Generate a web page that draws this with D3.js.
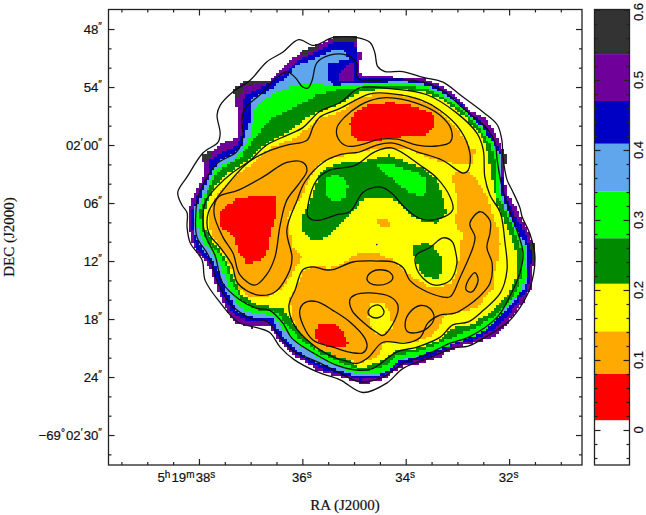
<!DOCTYPE html>
<html>
<head>
<meta charset="utf-8">
<script src="https://cdn.jsdelivr.net/npm/d3@7/dist/d3.min.js"></script>
<style>
  html, body { margin: 0; padding: 0; background: #fff; }
  svg { display: block; }
  text { font-family: "Liberation Sans", Arial, sans-serif; fill: #111; stroke: #111; stroke-width: 0.2; }
</style>
</head>
<body>
<div id="chart"></div>
<script>
"use strict";

// All map data: [RA seconds past 5h19m, Dec arcsec past -69d01m]
const purpleEdge = [[35.41,48.9],[34.94,48.9],[34.93,50.4],[34.83,50.5],[34.83,51.1],[34.91,51.4],[34.91,52.6],[34.73,52.8],[34.11,53.0],[33.66,53.1],[33.34,53.8],[33.09,54.6],[32.70,56.6],[32.43,57.4],[32.23,59.2],[32.08,60.8],[32.12,62.9],[32.04,65.0],[31.84,66.7],[31.65,68.8],[31.50,70.6],[31.52,72.2],[31.56,74.7],[31.73,76.3],[31.98,78.1],[32.31,79.9],[32.70,80.5],[33.01,80.9],[33.34,81.9],[33.72,82.6],[34.11,83.0],[34.50,84.5],[34.89,84.6],[35.20,84.1],[35.70,83.3],[36.24,81.5],[36.49,79.9],[36.63,78.7],[37.01,78.9],[37.34,78.2],[37.59,75.7],[37.79,72.6],[38.04,71.2],[38.17,69.5],[38.21,66.7],[38.02,64.3],[37.88,62.9],[37.94,61.2],[37.75,60.7],[37.54,59.8],[37.25,59.2],[37.27,56.1],[37.34,54.3],[37.15,53.5],[36.63,53.4],[36.30,51.5],[36.01,50.4],[35.70,49.7]];
const blueEdge = [[35.41,49.4],[34.98,49.4],[34.95,51.5],[34.93,52.8],[34.89,53.0],[34.11,53.2],[33.66,53.5],[33.34,54.1],[33.09,55.0],[32.70,56.9],[32.47,57.9],[32.31,59.5],[32.14,60.8],[32.14,62.9],[32.08,65.2],[31.98,66.4],[31.72,68.8],[31.56,70.9],[31.59,73.4],[31.65,75.0],[31.79,76.0],[32.04,77.8],[32.37,79.4],[32.70,80.2],[33.09,80.7],[33.34,81.5],[33.72,82.3],[34.11,82.6],[34.50,84.1],[34.89,84.3],[35.20,83.8],[35.70,83.0],[36.16,81.5],[36.43,80.0],[36.63,78.3],[37.01,78.3],[37.30,77.6],[37.54,75.7],[37.75,72.4],[38.02,70.9],[38.12,69.3],[38.14,66.7],[38.08,66.0],[37.94,64.4],[37.79,62.9],[37.79,61.6],[37.54,60.7],[37.25,60.0],[37.15,58.8],[37.17,56.1],[37.11,54.8],[36.76,54.0],[36.34,52.6],[36.01,51.0],[35.66,50.2]];
const skyEdge = [[36.10,51.7],[35.72,51.0],[35.33,50.0],[35.14,50.4],[35.12,51.2],[35.50,51.5],[35.52,53.0],[35.41,53.8],[34.60,53.6],[34.11,53.4],[33.66,53.7],[33.34,54.4],[33.09,55.3],[32.70,57.2],[32.50,58.2],[32.35,59.7],[32.17,61.0],[32.17,63.1],[32.12,65.4],[32.04,66.7],[31.79,69.3],[31.63,70.9],[31.63,73.4],[31.71,75.0],[31.84,75.7],[32.12,77.4],[32.43,78.9],[32.76,79.9],[33.09,80.4],[33.40,81.2],[33.78,81.9],[34.15,82.4],[34.50,83.8],[34.89,84.0],[35.20,83.5],[35.70,82.6],[36.14,81.2],[36.39,79.7],[36.59,77.9],[36.97,77.8],[37.25,77.3],[37.46,75.3],[37.69,72.2],[37.94,70.7],[38.08,69.1],[38.10,66.7],[38.02,65.9],[37.88,64.3],[37.73,62.6],[37.59,61.6],[37.25,60.7],[37.15,59.8],[37.01,57.4],[37.01,55.3],[36.69,54.5],[36.34,53.1]];
const greenEdge = [[36.95,56.4],[36.69,55.1],[36.38,54.3],[36.10,53.8],[35.91,53.6],[35.52,53.8],[35.14,54.0],[34.69,53.7],[34.11,53.7],[33.66,53.8],[33.34,54.5],[33.01,55.7],[32.70,57.4],[32.50,58.4],[32.31,59.8],[32.21,61.2],[32.21,63.3],[32.17,65.2],[32.08,66.5],[31.84,69.1],[31.69,70.9],[31.67,73.4],[31.75,75.0],[31.98,76.3],[32.23,78.1],[32.50,79.3],[32.89,80.2],[33.28,81.0],[33.66,81.7],[34.11,82.2],[34.34,83.3],[34.56,83.6],[34.89,83.7],[35.20,83.1],[35.70,82.0],[36.07,80.7],[36.34,79.3],[36.57,77.6],[36.95,77.4],[37.21,76.8],[37.40,75.0],[37.63,71.9],[37.84,70.6],[38.02,69.0],[38.04,67.0],[37.94,65.7],[37.79,63.9],[37.69,62.6],[37.25,61.2],[37.01,59.2]];
const forestEdge = [[36.95,59.5],[36.63,57.4],[36.18,56.2],[35.72,54.8],[35.20,54.1],[34.69,54.0],[34.11,53.9],[33.66,54.1],[33.34,54.8],[32.95,56.2],[32.62,57.9],[32.37,60.0],[32.27,61.6],[32.27,63.3],[32.23,65.4],[32.12,66.2],[31.88,69.1],[31.75,70.9],[31.73,73.2],[31.83,74.7],[31.92,75.7],[32.31,77.8],[32.62,78.8],[33.01,79.7],[33.34,80.5],[33.78,81.4],[34.15,81.7],[34.36,82.8],[34.63,83.1],[34.89,83.4],[35.20,82.6],[35.66,81.5],[36.07,80.0],[36.26,78.9],[36.49,77.3],[36.95,76.9],[37.17,76.0],[37.34,74.5],[37.55,71.6],[37.82,70.1],[37.94,68.8],[38.00,67.0],[37.88,65.5],[37.73,63.6],[37.59,62.6],[37.21,61.3]];
const yellowEdge = [[37.54,63.3],[37.05,61.6],[36.69,59.8],[36.30,58.8],[35.85,56.9],[35.33,55.9],[34.89,54.5],[34.25,54.1],[33.66,54.5],[33.28,55.3],[32.89,56.9],[32.56,58.8],[32.41,60.8],[32.33,63.6],[32.23,66.2],[32.04,68.5],[31.88,70.7],[31.84,72.6],[31.88,74.0],[32.04,75.7],[32.37,77.4],[32.76,78.6],[33.09,78.9],[33.34,80.2],[33.72,81.0],[34.17,81.2],[34.44,82.2],[34.69,82.8],[34.89,83.1],[35.20,81.9],[35.58,80.9],[35.99,79.7],[36.18,78.4],[36.38,76.9],[36.82,76.6],[37.15,75.7],[37.30,74.2],[37.50,71.6],[37.75,69.8],[37.88,68.6],[37.92,67.2],[37.82,65.7],[37.65,63.9]];
const orangeUpper = [[37.59,64.7],[37.34,63.3],[36.95,61.9],[36.63,60.3],[36.10,59.2],[35.72,57.4],[35.27,56.6],[34.89,55.0],[34.32,54.6],[33.80,55.1],[33.41,56.2],[33.03,58.1],[32.76,60.2],[32.66,60.5],[32.72,61.9],[33.01,61.9],[33.28,61.8],[33.59,61.2],[33.92,60.5],[34.25,60.5],[34.50,60.3],[34.89,60.7],[35.33,61.2],[35.66,61.8],[35.85,63.3],[36.01,65.4],[36.14,66.2],[36.28,67.4],[36.18,70.6],[36.01,71.6],[36.18,73.1],[36.38,74.8],[36.69,75.7],[37.01,75.7],[37.25,74.8],[37.36,72.9],[37.59,70.6],[37.75,69.3],[37.82,67.4],[37.73,66.0]];
const orangeLower = [[33.05,62.9],[32.76,62.8],[32.60,63.9],[32.41,65.4],[32.33,67.0],[32.21,68.8],[32.17,70.3],[32.23,72.1],[32.27,72.9],[32.33,75.0],[32.62,76.8],[33.01,77.3],[33.24,77.6],[33.40,79.3],[33.69,80.2],[34.11,80.5],[34.40,80.4],[34.54,81.9],[34.89,82.6],[35.41,81.7],[35.79,80.9],[36.07,79.4],[36.18,78.1],[36.24,76.0],[36.07,74.0],[35.95,72.7],[35.72,72.6],[35.47,72.7],[35.20,72.2],[34.89,71.1],[34.56,71.2],[34.25,71.9],[34.05,72.9],[33.86,73.7],[33.53,74.7],[33.14,74.5],[33.01,73.2],[32.95,70.9],[32.91,69.1],[33.05,68.1],[32.99,65.7],[33.10,63.4]];
const orangeDot = [[34.56,67.8],[34.37,67.6],[34.28,68.1],[34.32,68.6],[34.50,68.5]];
const yellowDot = [[34.69,76.3],[34.44,76.3],[34.30,77.4],[34.26,78.8],[34.44,79.7],[34.63,79.3],[34.73,77.8]];
const redUpper = [[34.69,55.7],[34.50,55.7],[34.25,55.6],[33.92,55.9],[33.59,56.4],[33.43,57.1],[33.45,58.2],[33.63,59.0],[34.17,59.2],[34.50,59.5],[34.89,59.7],[35.05,59.0],[35.08,57.7],[34.95,56.4]];
const redLeft = [[37.55,66.7],[37.25,65.4],[36.49,65.3],[36.49,67.0],[36.59,68.6],[36.69,71.2],[36.82,71.9],[37.05,72.3],[37.23,71.2],[37.32,69.5],[37.61,68.3],[37.61,67.4]];
const redLower = [[35.76,79.4],[35.70,78.6],[35.41,78.4],[35.23,79.3],[35.12,80.4],[35.14,81.0],[35.47,80.9],[35.70,80.4]];
const forestCentre = [[35.52,62.3],[35.08,61.6],[34.89,61.8],[34.32,61.0],[34.07,61.6],[33.66,62.4],[33.40,63.6],[33.28,65.4],[33.20,67.0],[33.40,68.1],[33.72,67.8],[33.92,67.2],[34.05,66.4],[34.17,65.7],[34.50,65.4],[34.85,65.7],[35.14,67.6],[35.33,68.5],[35.60,69.8],[35.85,69.8],[35.99,68.8],[36.01,67.4],[35.79,65.0],[35.70,63.3]];
const forestRight = [[33.88,70.6],[33.66,70.1],[33.49,70.3],[33.28,71.9],[33.28,72.9],[33.38,73.8],[33.57,73.7],[33.72,73.1],[33.82,71.6]];
const greenLeft = [[35.56,63.6],[35.41,63.1],[35.20,63.3],[35.12,64.1],[35.14,65.4],[35.33,65.9],[35.52,65.4]];
const greenRight = [[34.54,62.1],[34.30,61.9],[34.05,62.4],[33.76,62.9],[33.59,63.6],[33.59,64.9],[33.66,65.2],[33.92,65.0],[34.17,63.9],[34.44,62.8]];
const purplePatch = [[35.27,52.4],[35.04,51.4],[34.98,51.4],[34.98,53.3],[35.31,53.4]];
const grayPatches = [
  [[35.41,48.8],[34.94,48.8],[34.94,49.2],[35.41,49.2]],
  [[36.01,50.3],[35.72,49.6],[35.72,50.1],[36.01,50.8]],
  [[37.15,53.4],[36.63,53.3],[36.63,53.7],[37.15,53.8]],
  [[37.36,54.2],[37.17,53.8],[37.17,54.6],[37.30,55.2]],
  [[37.94,61.0],[37.75,60.6],[37.75,61.2],[37.90,61.9]],
  [[32.10,60.8],[32.03,60.8],[32.08,62.2],[32.14,62.2]],
  [[31.60,70.0],[31.48,70.0],[31.48,72.0],[31.55,72.0]]
];

const contourOuter = [[36.07,49.1],[35.78,49.7],[35.41,48.9],[34.94,48.9],[34.69,49.4],[34.60,50.4],[34.54,51.9],[34.40,52.4],[34.06,52.4],[33.66,53.0],[33.28,53.5],[32.95,54.8],[32.50,56.6],[32.23,57.9],[32.14,59.5],[32.12,61.2],[32.04,63.6],[31.94,64.7],[31.79,66.5],[31.75,67.4],[31.59,69.3],[31.50,71.6],[31.59,74.7],[31.73,76.3],[31.98,78.1],[32.17,78.9],[32.50,80.0],[32.79,80.8],[33.09,81.0],[33.53,82.0],[34.05,83.1],[34.36,84.6],[34.83,85.6],[35.27,84.3],[35.70,83.5],[36.16,82.2],[36.43,80.9],[36.63,79.4],[36.88,78.9],[37.25,78.3],[37.59,76.3],[37.88,74.0],[37.94,71.9],[38.17,70.1],[38.23,68.5],[38.23,67.0],[38.33,66.2],[38.41,64.9],[38.23,63.3],[37.92,60.8],[37.63,59.7],[37.59,58.8],[37.65,56.9],[37.59,55.9],[37.34,54.5],[37.01,53.3],[36.69,51.4],[36.38,50.4]];
const contourLobe = [[35.27,83.6],[34.89,84.5],[34.44,84.0],[34.05,82.6],[33.53,81.5],[33.14,80.5],[32.79,79.9],[32.23,77.8],[32.02,76.0],[31.79,73.2],[31.73,71.2],[31.83,69.1],[32.12,64.7],[32.23,61.6],[32.27,59.8],[32.41,58.4],[32.62,57.4],[32.95,55.9],[33.28,54.4],[33.66,53.5],[34.11,53.2],[34.69,53.3],[34.93,53.1],[34.95,51.5],[35.14,50.7],[35.47,50.7],[35.72,51.5],[35.81,53.3],[35.89,54.1],[35.99,54.0],[36.14,53.0],[36.30,52.4],[36.49,53.0],[36.82,54.8],[37.11,56.2],[37.17,57.4],[37.15,59.2],[37.27,60.7],[37.65,61.9],[37.84,63.3],[38.02,65.4],[38.06,67.0],[38.04,69.5],[37.82,71.4],[37.63,74.3],[37.36,76.6],[37.01,77.9],[36.67,78.3],[36.43,79.9],[36.14,81.4],[35.72,82.4]];
const contourRing = [[34.89,54.1],[34.25,54.2],[33.59,54.8],[33.01,56.7],[32.62,58.8],[32.50,60.5],[32.47,63.3],[32.37,65.2],[32.17,67.0],[32.08,70.1],[32.04,72.9],[32.17,75.3],[32.50,77.1],[32.79,78.3],[33.09,78.6],[33.34,79.9],[33.78,80.9],[34.17,81.4],[34.63,83.1],[34.89,83.3],[35.33,82.8],[35.79,81.5],[36.20,80.0],[36.38,78.4],[36.63,77.1],[36.88,76.9],[37.21,76.0],[37.54,74.3],[37.69,71.4],[37.88,69.3],[37.92,67.0],[37.86,65.7],[37.65,64.3],[37.36,62.9],[37.01,61.6],[36.69,60.0],[36.30,59.0],[35.99,58.2],[35.80,57.2],[35.66,56.5],[35.27,55.6]];
const contourUpper = [[34.69,54.7],[34.25,54.7],[33.72,55.3],[33.34,56.4],[32.95,58.4],[32.76,60.8],[32.79,62.6],[32.89,62.9],[33.28,61.6],[33.78,60.7],[34.25,59.8],[34.56,60.0],[34.89,60.7],[35.27,61.0],[35.60,61.8],[35.95,63.8],[36.10,65.7],[36.30,68.8],[36.20,71.6],[36.24,72.9],[36.53,75.2],[36.88,75.5],[37.25,74.3],[37.36,72.4],[37.59,70.6],[37.81,69.1],[37.82,67.0],[37.54,64.7],[37.05,61.8],[36.69,60.7],[36.30,60.0],[35.91,59.5],[35.79,58.1],[35.66,57.1],[35.27,56.2]];
const contourLeft = [[35.99,61.8],[35.91,62.6],[36.05,63.9],[36.30,65.7],[36.43,68.3],[36.53,71.6],[36.69,73.4],[36.92,74.5],[37.21,73.4],[37.34,71.2],[37.54,69.5],[37.71,67.0],[37.63,65.4],[37.25,64.7],[36.76,63.3],[36.30,61.8]];
const contourRed = [[34.69,55.4],[34.36,55.1],[33.78,55.7],[33.34,56.9],[33.12,58.4],[33.14,59.7],[33.40,60.1],[33.78,60.0],[34.17,59.4],[34.50,59.4],[34.89,60.0],[35.14,60.1],[35.31,59.3],[35.33,58.2],[35.18,57.1],[34.89,55.9]];
const contourLower = [[35.99,72.9],[35.79,72.6],[35.56,72.9],[35.41,72.9],[35.02,72.1],[34.56,72.0],[34.25,72.1],[34.05,72.7],[33.92,74.0],[33.66,75.0],[33.30,75.7],[33.14,75.7],[32.95,73.7],[32.70,70.6],[32.66,69.5],[32.76,68.1],[32.56,66.9],[32.37,67.8],[32.37,69.1],[32.43,70.6],[32.33,72.2],[32.37,74.3],[32.60,75.8],[32.79,76.6],[33.05,77.4],[33.34,77.6],[33.57,78.4],[33.72,79.9],[34.01,80.5],[34.44,80.4],[34.73,82.0],[34.95,82.6],[35.18,82.3],[35.37,82.0],[35.79,80.7],[36.16,78.6],[36.26,76.6],[36.14,75.0]];
const contourSouth = [[36.05,77.1],[35.95,76.3],[35.72,76.2],[35.41,77.1],[35.08,78.3],[34.79,80.0],[34.75,80.9],[34.83,81.5],[35.02,81.5],[35.41,80.9],[35.79,80.2],[35.99,78.6]];
const contourTri = [[35.08,76.0],[34.98,75.5],[34.69,75.3],[34.30,75.7],[34.15,76.6],[34.21,78.1],[34.44,79.7],[34.56,79.4],[34.83,78.3],[35.04,77.1]];
const contourDot = [[34.73,77.3],[34.65,76.7],[34.50,76.6],[34.42,77.3],[34.50,77.8],[34.65,77.8]];
const contourOvalMid = [[34.75,73.8],[34.65,73.1],[34.50,72.9],[34.30,73.2],[34.25,73.8],[34.35,74.3],[34.54,74.5],[34.69,74.3]];
const contourOvalEast = [[34.01,78.4],[33.92,77.3],[33.72,76.6],[33.53,76.9],[33.45,77.9],[33.57,78.9],[33.78,79.4],[33.97,79.3]];
const contourOvalRight = [[32.66,73.2],[32.60,74.0],[32.72,75.2],[32.83,75.0],[32.81,74.2]];
const contourBlob = [[33.80,71.4],[33.53,70.6],[33.28,69.6],[33.10,70.0],[33.03,71.2],[33.01,72.2],[33.14,74.0],[33.43,74.5],[33.66,73.8],[33.80,72.6]];
const contourArch = [[35.89,67.4],[35.89,66.2],[35.72,63.6],[35.47,62.6],[34.98,62.1],[34.60,60.7],[34.27,60.3],[33.72,62.1],[33.40,63.4],[33.14,65.4],[33.09,66.7],[33.34,67.6],[33.72,67.6],[34.01,66.5],[34.27,65.0],[34.44,64.4],[34.63,64.4],[34.83,64.9],[35.08,66.9],[35.33,67.2],[35.72,67.8]];
const centreDot = [34.56, 70.3];

// Color bar
const barEdges = [-0.05, 0.014, 0.08, 0.141, 0.209, 0.274, 0.341, 0.409, 0.47, 0.537, 0.6007];
const barColors = ["#ffffff", "#ff0000", "#ffaa00", "#ffff00", "#008a00", "#00ff00", "#60a6ec", "#0000c4", "#70009a", "#333333"];
const barMajor = [0, 0.1, 0.2, 0.3, 0.4, 0.5, 0.6];
const barMinor = [-0.04, -0.02, 0.02, 0.04, 0.06, 0.08, 0.12, 0.14, 0.16, 0.18, 0.22, 0.24, 0.26, 0.28, 0.32, 0.34, 0.36, 0.38, 0.42, 0.44, 0.46, 0.48, 0.52, 0.54, 0.56, 0.58];

// Axis ticks
const raMajor = [38, 36, 34, 32];
const raMinor = [39.5, 39, 38.5, 37.5, 37, 36.5, 35.5, 35, 34.5, 33.5, 33, 32.5, 31.5, 31];
const decMajor = [48, 54, 60, 66, 72, 78, 84, 90];
const decMinor = [50, 52, 56, 58, 62, 64, 68, 70, 74, 76, 80, 82, 86, 88, 92];

const W = 646, H = 515;
const svg = d3.select("#chart").append("svg").attr("width", W).attr("height", H);

const x = d3.scaleLinear().domain([39.75, 30.59]).range([108.5, 582]);
const y = d3.scaleLinear().domain([45.98, 93.1]).range([9.5, 465]);
const yBar = d3.scaleLinear().domain([-0.05, 0.6007]).range([465, 9.5]);

// Painter's order: last polygon containing a cell wins
const layers = [
  [purpleEdge, 8], [blueEdge, 7], [skyEdge, 6], [greenEdge, 5], [forestEdge, 4],
  [yellowEdge, 3], [orangeUpper, 2], [orangeLower, 2], [orangeDot, 2], [yellowDot, 3],
  [redUpper, 1], [redLeft, 1], [redLower, 1],
  [forestCentre, 4], [forestRight, 4], [greenLeft, 5], [greenRight, 5],
  [purplePatch, 8]
].concat(grayPatches.map((p) => [p, 9]));

const cellRa = 0.05, cellDec = 0.27;
const runs = [];
d3.range(48.5, 86, cellDec).forEach((dec) => {
  let cur = null;
  d3.range(38.5, 31.2, -cellRa).forEach((ra) => {
    let level = 0;
    layers.forEach(([poly, lv]) => {
      if (d3.polygonContains(poly, [ra - cellRa / 2, dec + cellDec / 2])) level = lv;
    });
    if (cur && cur.level === level) {
      cur.ra1 = ra - cellRa;
    } else {
      cur = { level, ra0: ra, ra1: ra - cellRa, dec };
      if (level) runs.push(cur);
    }
  });
});

svg.append("g").selectAll("rect").data(runs).join("rect")
  .attr("x", (d) => Math.round(x(d.ra0)))
  .attr("y", (d) => Math.round(y(d.dec)))
  .attr("width", (d) => Math.round(x(d.ra1)) - Math.round(x(d.ra0)))
  .attr("height", (d) => Math.round(y(d.dec + cellDec)) - Math.round(y(d.dec)))
  .attr("fill", (d) => barColors[d.level])
  .attr("shape-rendering", "crispEdges");

// Contours
const contours = [contourOuter, contourLobe, contourRing, contourUpper, contourLeft, contourRed,
  contourLower, contourSouth, contourTri, contourDot, contourOvalMid, contourOvalEast,
  contourOvalRight, contourBlob, contourArch];
const contourLine = d3.line().x((d) => x(d[0])).y((d) => y(d[1])).curve(d3.curveCatmullRomClosed.alpha(0.5));
svg.append("g").selectAll("path").data(contours).join("path")
  .attr("d", contourLine)
  .attr("fill", "none")
  .attr("stroke", "#111")
  .attr("stroke-width", 1.3);
svg.append("circle").attr("cx", x(centreDot[0])).attr("cy", y(centreDot[1])).attr("r", 0.8).attr("fill", "#111");

// Frame and ticks
function tickAxis(gen, tx, ty) {
  const g = svg.append("g").attr("transform", `translate(${tx},${ty})`).call(gen);
  g.selectAll(".domain").remove();
  g.selectAll("line").attr("stroke", "#222").attr("stroke-width", 1.2);
  g.selectAll("text").remove();
}
const frameAxes = (scale, major, minor, mk, tx, ty) => {
  tickAxis(mk(scale).tickValues(major).tickSize(-6), tx, ty);
  tickAxis(mk(scale).tickValues(minor).tickSize(-3), tx, ty);
};
frameAxes(x, raMajor, raMinor, d3.axisBottom, 0, 465);
frameAxes(x, raMajor, raMinor, d3.axisTop, 0, 9.5);
frameAxes(y, decMajor, decMinor, d3.axisLeft, 108.5, 0);
frameAxes(y, decMajor, decMinor, d3.axisRight, 582, 0);

svg.append("rect").attr("x", 108.5).attr("y", 9.5).attr("width", 473.5).attr("height", 455.5)
  .attr("fill", "none").attr("stroke", "#222").attr("stroke-width", 1.3);

// Color bar
svg.append("g").selectAll("rect").data(barColors).join("rect")
  .attr("x", 594.5).attr("width", 35)
  .attr("y", (d, i) => yBar(barEdges[i + 1]))
  .attr("height", (d, i) => yBar(barEdges[i]) - yBar(barEdges[i + 1]))
  .attr("fill", (d) => d);
frameAxes(yBar, barMajor, barMinor, d3.axisLeft, 594.5, 0);
frameAxes(yBar, barMajor, barMinor, d3.axisRight, 629.5, 0);
svg.append("rect").attr("x", 594.5).attr("y", 9.5).attr("width", 35).attr("height", 455.5)
  .attr("fill", "none").attr("stroke", "#222").attr("stroke-width", 1.3);

// 0.6 sits low enough to stay inside the top edge
barMajor.forEach((v) => {
  svg.append("text")
    .attr("transform", `translate(643,${Math.max(yBar(v), 12)}) rotate(-90)`)
    .attr("text-anchor", "middle")
    .attr("font-size", 13)
    .text(v);
});

// Tick labels with raised unit marks: [text, raised?]
function richText(parent, parts) {
  parts.forEach(([s, up]) => {
    parent.append("tspan")
      .attr("font-size", up ? 10 : 13.2)
      .attr("dy", up ? -4 : 0)
      .text(s);
    if (up) parent.append("tspan").attr("font-size", 13.2).attr("dy", 4).text("\u200a");
  });
}

const raLabels = [
  [[ "5" ], [ "h", 1 ], [ "19" ], [ "m", 1 ], [ "38" ], [ "s", 1 ]],
  [[ "36" ], [ "s", 1 ]],
  [[ "34" ], [ "s", 1 ]],
  [[ "32" ], [ "s", 1 ]]
];
raLabels.forEach((parts, i) => {
  const t = svg.append("text").attr("x", x(raMajor[i]) - (i === 0 ? 12 : 0)).attr("y", 482).attr("text-anchor", "middle");
  richText(t, parts);
});

const decLabels = [
  [[ "48" ], [ "\u2033", 1 ]],
  [[ "54" ], [ "\u2033", 1 ]],
  [[ "02" ], [ "\u2032", 1 ], [ "00" ], [ "\u2033", 1 ]],
  [[ "06" ], [ "\u2033", 1 ]],
  [[ "12" ], [ "\u2033", 1 ]],
  [[ "18" ], [ "\u2033", 1 ]],
  [[ "24" ], [ "\u2033", 1 ]],
  [[ "\u221269" ], [ "\u00b0", 1 ], [ "02" ], [ "\u2032", 1 ], [ "30" ], [ "\u2033", 1 ]]
];
decLabels.forEach((parts, i) => {
  const t = svg.append("text").attr("x", 103).attr("y", y(decMajor[i]) + 4.5).attr("text-anchor", "end");
  richText(t, parts);
});

// Axis titles
svg.append("text").attr("x", 345).attr("y", 510).attr("text-anchor", "middle")
  .style("font-family", "'Liberation Serif', serif").attr("font-size", 15).text("RA (J2000)");
svg.append("text").attr("transform", "translate(14,237) rotate(-90)").attr("text-anchor", "middle")
  .style("font-family", "'Liberation Serif', serif").attr("font-size", 15).text("DEC (J2000)");
</script>
</body>
</html>
